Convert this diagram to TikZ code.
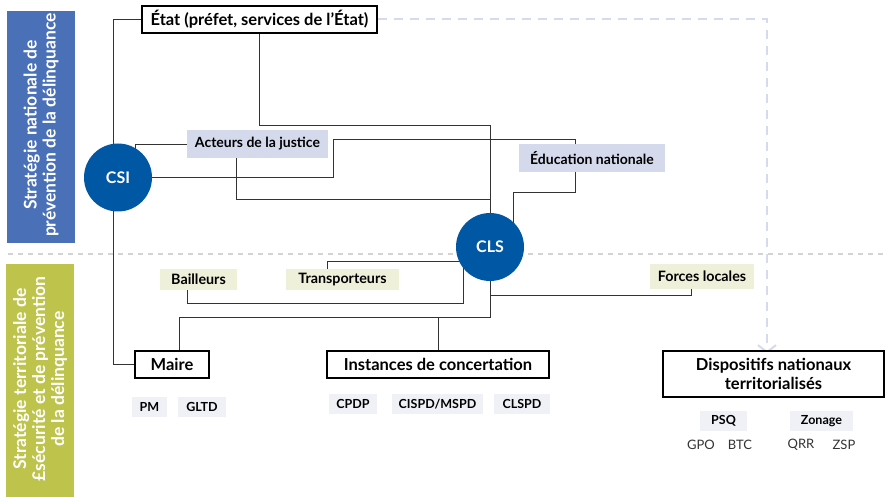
\documentclass[tikz,border=0pt]{standalone}
\usepackage{fontspec}
\setmainfont{Lato}
\usetikzlibrary{arrows.meta,backgrounds}
\definecolor{bandblue}{HTML}{4A70B7}
\definecolor{bandgreen}{HTML}{BDC34B}
\definecolor{circblue}{HTML}{0057A3}
\definecolor{lavfill}{HTML}{D5D9EC}
\definecolor{greenfill}{HTML}{EEF0DA}
\definecolor{grayfill}{HTML}{EFF1F6}
\definecolor{dasharrow}{HTML}{D5DAF0}
\definecolor{sepgray}{HTML}{D3D3D3}
\definecolor{linecol}{HTML}{333333}
\tikzset{
  mainbox/.style={draw=black,line width=1.3pt,fill=white,inner sep=0pt,align=center,font=\fontsize{16.5}{19}\selectfont\bfseries},
  hub/.style={circle,fill=circblue,minimum size=68pt,inner sep=0pt,text=white,font=\fontsize{16}{18}\selectfont\bfseries},
  lavtag/.style={fill=lavfill,inner sep=0pt,font=\fontsize{14}{16}\selectfont\bfseries},
  greentag/.style={fill=greenfill,inner sep=0pt,font=\fontsize{14.3}{16}\selectfont\bfseries},
  graytag/.style={fill=grayfill,inner sep=0pt,font=\fontsize{12.5}{15}\selectfont\bfseries},
  plain/.style={inner sep=0pt,font=\fontsize{13}{15}\selectfont,text=black!80},
  conn/.style={draw=linecol,line width=0.9pt},
  bandtext/.style={text=white,rotate=90,align=center,font=\fontsize{17.5}{19}\selectfont\bfseries},
}
\begin{document}
\begin{tikzpicture}[x=1pt,y=-1pt]
\useasboundingbox (0,0) rectangle (886,497);
% bands
\fill[bandblue] (7,11) rectangle (75,243);
\fill[bandgreen] (6,264) rectangle (74,497);
\node[bandtext] (bandA) at (41,125) {Stratégie nationale de\\prévention de la délinquance};
\node[bandtext] (bandB) at (40,379) {Stratégie territoriale de\\£sécurité et de prévention\\de la délinquance};
\draw[sepgray,line width=1.8pt,dash pattern=on 5pt off 5pt] (8,254) -- (886,254);
% nodes
\node[mainbox,minimum width=235pt,minimum height=27pt] (etat) at (259.5,19.5) {État (préfet, services de l’État)};
\node[hub] (csi) at (118,177.5) {CSI};
\node[hub] (cls) at (490,247) {CLS};
\node[lavtag,minimum width=141pt,minimum height=28pt] (acteurs) at (257.5,144) {Acteurs de la justice};
\node[lavtag,minimum width=146pt,minimum height=28pt] (educ) at (592,158) {Éducation nationale};
\node[greentag,minimum width=77pt,minimum height=21pt] (bailleurs) at (198.5,279.5) {Bailleurs};
\node[greentag,minimum width=113pt,minimum height=21pt] (transp) at (342.5,279.5) {Transporteurs};
\node[greentag,minimum width=104pt,minimum height=25pt] (forces) at (702,276.5) {Forces locales};
\node[mainbox,minimum width=74pt,minimum height=27pt] (maire) at (172,364.5) {Maire};
\node[mainbox,minimum width=222pt,minimum height=27pt] (inst) at (438,364.5) {Instances de concertation};
\node[mainbox,minimum width=221pt,minimum height=46pt] (disp) at (773.5,374) {Dispositifs nationaux\\territorialisés};
\node[graytag,minimum width=35pt,minimum height=20pt] (pm) at (149.5,407) {PM};
\node[graytag,minimum width=48pt,minimum height=20pt] (gltd) at (202,407) {GLTD};
\node[graytag,minimum width=48pt,minimum height=20pt] (cpdp) at (353,404) {CPDP};
\node[graytag,minimum width=91pt,minimum height=20pt] (cispd) at (437.5,404) {CISPD/MSPD};
\node[graytag,minimum width=56pt,minimum height=20pt] (clspd) at (522,404) {CLSPD};
\node[graytag,minimum width=47pt,minimum height=20pt] (psq) at (723.5,421) {PSQ};
\node[graytag,minimum width=63pt,minimum height=20pt] (zonage) at (821.5,421) {Zonage};
\node[plain] (gpo) at (701,445) {GPO};
\node[plain] (btc) at (740,445) {BTC};
\node[plain] (qrr) at (801,445) {QRR};
\node[plain] (zsp) at (844,445) {ZSP};
% connectors
\begin{scope}[on background layer]
\coordinate (j1) at (490,125);
\coordinate (j2) at (490,199);
\coordinate (k1) at (490,317);
\coordinate (k2) at (490,295);
\draw[conn] (etat.west) -- ++(-28,0) |- (maire.west);
\draw[conn] (etat.south) |- (j1) -- (cls.center);
\draw[conn] (acteurs.west) -| (135,165);
\draw[conn] ([xshift=-21]acteurs.south) |- (j2);
\draw[conn] (csi.center) -- (333,177.5) |- (575,139) |- (513,192) -- (513,250);
\draw[conn] ([xshift=-11]bailleurs.south) |- (463,303) -- (463,261) -| ([xshift=-15.5]transp.north);
\draw[conn] (cls.center) -- (k1) -| ([xshift=7]maire.north);
\draw[conn] (k1 -| inst.north) -- (inst.north);
\draw[conn] (k2) -| ([xshift=-11]forces.south);
\draw[dasharrow,line width=2pt,dash pattern=on 9pt off 7pt,-{Straight Barb[length=7pt,width=18pt,line width=2pt]}] (etat.east) -| ([xshift=-6.5,yshift=-3]disp.north);
\end{scope}
\end{tikzpicture}
\end{document}
